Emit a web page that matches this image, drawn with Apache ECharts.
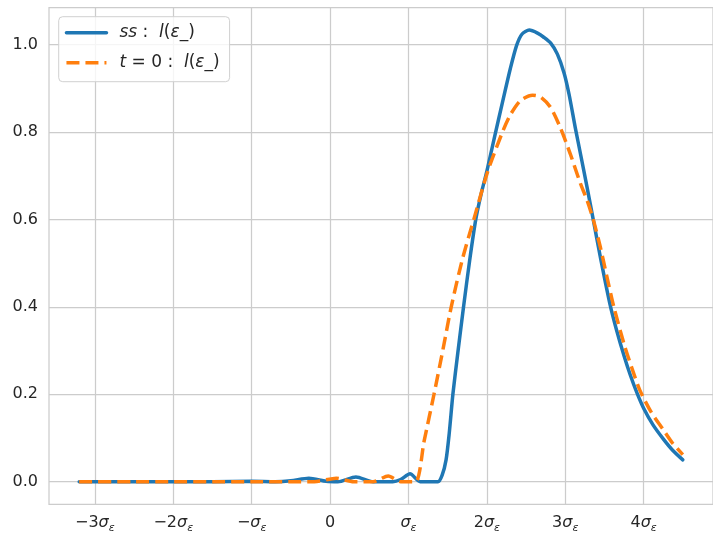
<!DOCTYPE html>
<html>
<head>
<meta charset="utf-8">
<script src="https://cdn.jsdelivr.net/npm/echarts@6/dist/echarts.min.js"></script>
<style>html,body{margin:0;padding:0;background:#fff}#c{width:713px;height:536px}</style>
</head>
<body>
<div id="c"></div>
<script>
// x in units of sigma_epsilon
var xTicks = [-3, -2, -1, 0, 1, 2, 3, 4];
var yTicks = [0, 0.2, 0.4, 0.6, 0.8, 1.0];

var ssX = [-3.2, -2.5, -2.0, -1.5, -1.0, -0.7, -0.5, -0.27, -0.05, 0.1, 0.33, 0.55, 0.8, 0.9, 1.02, 1.15, 1.377, 1.43, 1.48, 1.52, 1.567, 1.63, 1.703, 1.78, 1.859, 1.93, 2.0, 2.1, 2.2, 2.3, 2.38, 2.45, 2.541, 2.646, 2.73, 2.815, 2.9, 2.985, 3.05, 3.128, 3.2, 3.28, 3.357, 3.45, 3.572, 3.65, 3.75, 3.83, 3.915, 4.0, 4.12, 4.25, 4.37, 4.5];
var ssY = [0, 0, 0, 0, 0.001, 0, 0.002, 0.008, 0.001, 0, 0.011, 0, 0, 0.005, 0.018, 0, 0, 0.015, 0.05, 0.11, 0.2, 0.295, 0.4, 0.505, 0.6, 0.66, 0.71, 0.79, 0.868, 0.945, 0.998, 1.024, 1.033, 1.026, 1.016, 1.003, 0.978, 0.935, 0.885, 0.81, 0.745, 0.672, 0.600, 0.512, 0.405, 0.350, 0.288, 0.244, 0.203, 0.168, 0.130, 0.098, 0.072, 0.050];

var t0X = [-3.2, -2.5, -2.0, -1.5, -1.0, -0.5, -0.2, 0.08, 0.3, 0.55, 0.742, 0.9, 1.09, 1.2, 1.326, 1.44, 1.546, 1.69, 1.834, 2.012, 2.2, 2.303, 2.43, 2.582, 2.684, 2.81, 2.937, 3.064, 3.192, 3.28, 3.357, 3.45, 3.53, 3.62, 3.75, 3.85, 3.95, 4.1, 4.254, 4.37, 4.5];
var t0Y = [0, 0, 0, 0, 0, 0, 0, 0.008, 0, 0, 0.013, 0, 0, 0.093, 0.2, 0.302, 0.4, 0.51, 0.6, 0.71, 0.80, 0.84, 0.872, 0.884, 0.880, 0.857, 0.810, 0.750, 0.683, 0.643, 0.600, 0.535, 0.470, 0.400, 0.315, 0.260, 0.210, 0.158, 0.118, 0.088, 0.062];

function pairs(xs, ys) { return xs.map(function (x, i) { return [x, ys[i]]; }); }

var FONT = 'DejaVu Sans';
var TXT = '#262626';

function xLabel(v) {
  var k = Math.round(v);
  if (k === 0) return '{n|0}';
  var pre = k === 1 ? '' : (k === -1 ? '\u2212' : (k < 0 ? '\u2212' + (-k) : '' + k));
  return (pre ? '{n|' + pre + '}' : '') + '{s|\u03c3}{e|\u03b5}';
}

var chart = echarts.init(document.getElementById('c'), null, {renderer: 'canvas'});
chart.setOption({
  animation: false,
  backgroundColor: '#ffffff',
  grid: {left: 49, right: -3.5, top: 7.5, bottom: 31.7, show: true, borderColor: '#cccccc', borderWidth: 1.25, backgroundColor: 'transparent'},
  xAxis: {
    type: 'value', min: -3.585, max: 4.885,
    axisLine: {show: false}, axisTick: {show: false, customValues: xTicks},
    splitLine: {show: true, lineStyle: {color: '#cccccc', width: 1.25}},
    axisLabel: {
      customValues: xTicks, margin: 9, color: TXT, fontFamily: FONT, fontSize: 16,
      formatter: function (v) { return xLabel(v); },
      rich: {
        n: {fontFamily: FONT, fontSize: 16, color: TXT, lineHeight: 20},
        s: {fontFamily: FONT, fontSize: 16, color: TXT, fontStyle: 'italic', lineHeight: 20},
        e: {fontFamily: FONT, fontSize: 11, color: TXT, fontStyle: 'italic', lineHeight: 8, verticalAlign: 'bottom'}
      }
    }
  },
  yAxis: {
    type: 'value', min: -0.0517, max: 1.0846,
    axisLine: {show: false}, axisTick: {show: false, customValues: yTicks},
    splitLine: {show: true, lineStyle: {color: '#cccccc', width: 1.25}},
    axisLabel: {
      customValues: yTicks, margin: 11, color: TXT, fontFamily: FONT, fontSize: 16,
      formatter: function (v) { return v.toFixed(1); }
    }
  },
  legend: {
    left: 58.7, top: 16.7, orient: 'vertical',
    padding: [6, 10, 9, 6], itemGap: 10, itemWidth: 40, itemHeight: 14,
    backgroundColor: 'rgba(255,255,255,0.8)', borderColor: '#d0d0d0', borderWidth: 1, borderRadius: 4,
    lineStyle: {width: 3.5},
    itemStyle: {opacity: 0, borderWidth: 0},
    textStyle: {
      fontFamily: FONT, fontSize: 17, color: TXT, lineHeight: 20,
      rich: {
        f: {fontFamily: FONT, fontSize: 17, color: TXT, fontStyle: 'italic', padding: [0, 0, 0, 8]},
        i: {fontFamily: FONT, fontSize: 17, color: TXT, fontStyle: 'italic'},
        n: {fontFamily: FONT, fontSize: 17, color: TXT}
      }
    },
    formatter: function (name) {
      if (name === 'ss') return '{f|ss}{n| :  }{i|l}{n|(}{i|\u03b5}{n|_)}';
      return '{f|t}{n| = 0 :  }{i|l}{n|(}{i|\u03b5}{n|_)}';
    },
    data: ['ss', 't0']
  },
  series: [
    {
      name: 'ss', type: 'line', data: pairs(ssX, ssY), showSymbol: false, symbol: 'none',
      smooth: 0.25, lineStyle: {color: '#1f77b4', width: 3.5, cap: 'round'}, itemStyle: {color: '#1f77b4'}
    },
    {
      name: 't0', type: 'line', data: pairs(t0X, t0Y), showSymbol: false, symbol: 'none',
      smooth: 0.25, lineStyle: {color: '#ff7f0e', width: 3.5, type: [13, 6]}, itemStyle: {color: '#ff7f0e'}
    }
  ]
});
</script>
</body>
</html>
